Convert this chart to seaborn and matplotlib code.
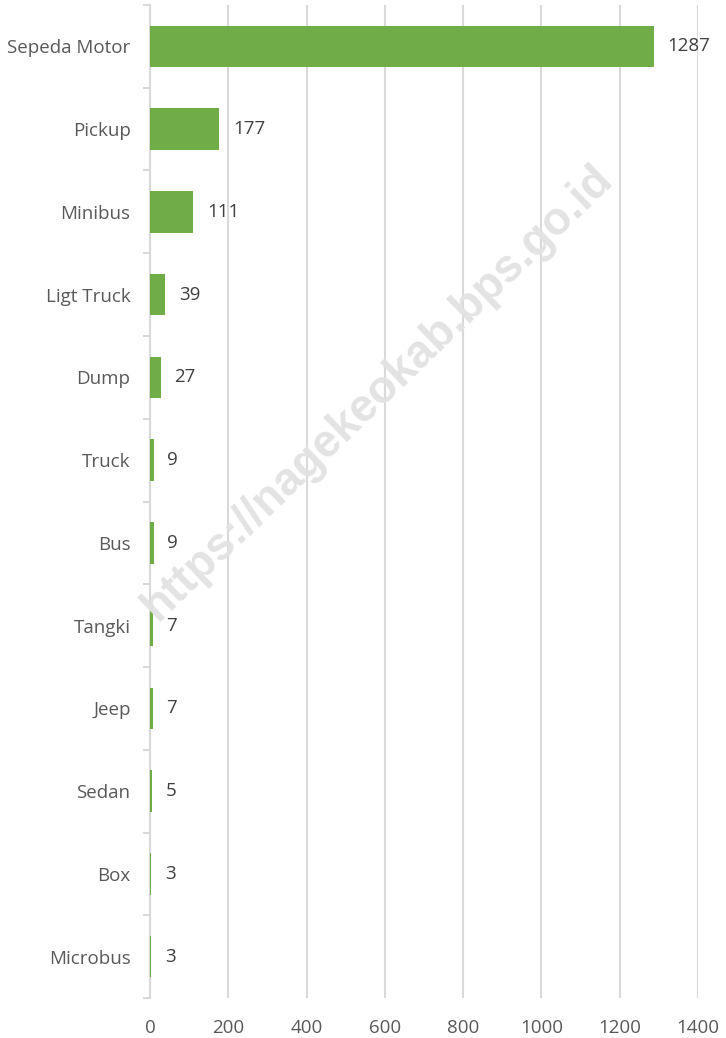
import pandas as pd
import matplotlib.pyplot as plt
import seaborn as sns
from matplotlib.ticker import FixedLocator

# data
jenis = ["Sepeda Motor", "Pickup", "Minibus", "Ligt Truck", "Dump", "Truck",
         "Bus", "Tangki", "Jeep", "Sedan", "Box", "Microbus"]
jumlah = [1287, 177, 111, 39, 27, 9, 9, 7, 7, 5, 3, 3]
x_ticks = [0, 200, 400, 600, 800, 1000, 1200, 1400]

df = pd.DataFrame({"jenis": jenis, "jumlah": jumlah})

sns.set_style("white")
plt.rcParams['font.family'] = ['Open Sans', 'DejaVu Sans']

fig, ax = plt.subplots(figsize=(7.26, 10.38), dpi=100)
fig.subplots_adjust(left=0.2066, right=0.9614, bottom=0.0385, top=0.9952)

sns.barplot(data=df, x="jumlah", y="jenis", color="#70AD47", width=0.5,
            saturation=1, linewidth=0, ax=ax, zorder=3)

ax.set_xlim(0, 1400)
ax.set_ylim(len(jenis) - 0.5, -0.5)
ax.set_xticks(x_ticks)
ax.set_xticklabels([str(t) for t in x_ticks], color="#595959", fontsize=13.5)
ax.tick_params(axis="x", length=0, pad=15)
ax.grid(axis="x", color="#D9D9D9", linewidth=1.5, zorder=0)

ax.set_yticks(range(len(jenis)))
ax.set_yticklabels(jenis, color="#595959", fontsize=13.5)
ax.yaxis.set_minor_locator(FixedLocator([i - 0.5 for i in range(len(jenis) + 1)]))
ax.tick_params(axis="y", which="major", length=0, pad=14)
ax.tick_params(axis="y", which="minor", left=True, length=5, color="#D9D9D9", width=1.5)

for s in ["top", "right", "bottom"]:
    ax.spines[s].set_visible(False)
ax.spines["left"].set_color("#D9D9D9")
ax.spines["left"].set_linewidth(1.5)
ax.set_xlabel("")
ax.set_ylabel("")

for i, v in enumerate(jumlah):
    ax.annotate(str(v), (v, i), xytext=(10, 0), textcoords="offset points",
                va="center", ha="left", color="#404040", fontsize=13.5, zorder=4)

# watermark
fig.text(0.52, 0.622, "https://nagekeokab.bps.go.id", rotation=44, fontsize=33,
         fontweight="bold", color="#E3E3E3", ha="center", va="center",
         family=["Liberation Sans", "DejaVu Sans"], zorder=5)

fig.savefig("out.png", dpi=100)
